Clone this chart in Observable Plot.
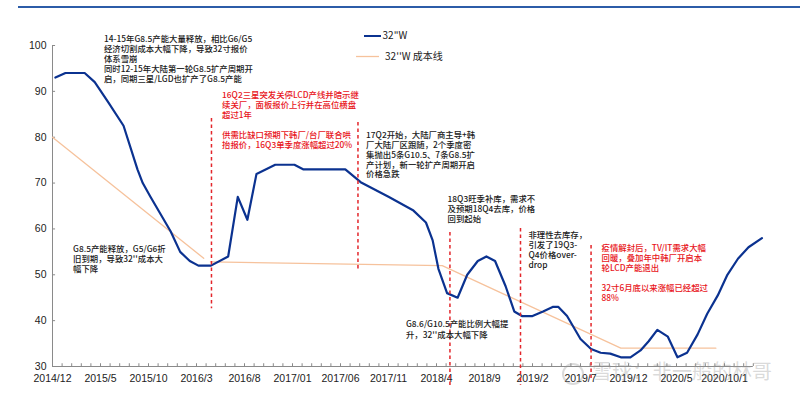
<!DOCTYPE html>
<html><head><meta charset="utf-8">
<script src="https://cdn.jsdelivr.net/npm/d3@7"></script>
<script src="https://cdn.jsdelivr.net/npm/@observablehq/plot@0.6"></script>
<style>
body{margin:0;background:#fff;}
#wrap{position:relative;width:800px;height:395px;overflow:hidden;}
#topline{position:absolute;left:18px;right:0;top:6px;height:2px;background:#2c5ca8;}
#wm{position:absolute;left:562px;top:359px;font:20px "Noto Sans CJK SC";color:rgba(150,150,150,0.35);white-space:nowrap;line-height:24px;}
#wm span.logo{display:inline-block;width:22px;height:22px;border:2px solid rgba(150,150,150,0.35);border-radius:50%;vertical-align:middle;margin-right:8px;box-sizing:border-box;}
#chart{position:absolute;left:0;top:0;}
</style></head><body>
<div id="wrap"><div id="chart"></div><div id="topline"></div><div id="wm"><span class="logo"></span>雪球：非一般的林哥</div></div>
<script>
// x positions are months since 2014/12
const tickLabels = ["2014/12","2015/5","2015/10","2016/3","2016/8","2017/01","2017/06","2017/11","2018/4","2018/9","2019/2","2019/7","2019/12","2020/5","2020/10/1"];
const tickMonths = [0,5,10,15,20,25,30,35,40,45,50,55,60,65,70];
const yTicks = [30,40,50,60,70,80,90,100];

const priceMonth = [0.3,1.35,3.35,4.4,5.85,7.4,8.85,9.4,10.2,12.3,13.3,14.3,15.2,16.5,18.3,19.3,20.3,21.25,23.2,25.2,26.1,30.5,32.1,35.0,37.6,38.9,39.6,40.2,41.1,42.2,43.2,44.3,45.2,46.1,47.2,48.1,48.9,50,51.1,52.1,52.7,53.6,55,56.1,57.1,58.1,59.2,60.2,61.25,62.1,63,64.1,65.1,66.1,67.2,68.2,69.3,70.3,71.4,72.5,73.9];
const priceValue = [93,94,94,92,87.5,82.5,73,70,67,59.5,55,53,52,52,54,67,62,72,74,74,73,73,70.2,67,64,61.4,57.5,51.3,46,45,50,53,54,53,47.5,42,41,41,42,43,43,41,36,33.8,33,32.8,32,32,33.5,35.5,38,36.5,32,33,37,41.5,45.5,50,53.5,56,58];

const costMonth = [0,15.75,16.45,40.6,59.2,69.1];
const costValue = [80,53.6,52.8,52.0,34,34];
const costSegment = ["a","a","b","b","b","b"];

const eventMonth = [16.56,31.82,41.4,48.75,56.1];
const eventTop = [84.1,83.2,59.2,60.1,56.4];
const eventBottom = [42.6,50.9,25.3,25.9,27.4];

const noteText = [
 "14-15年G8.5产能大量释放，相比G6/G5\n经济切割成本大幅下降，导致32寸报价\n体系雪崩\n同时12-15年大陆第一轮G8.5扩产周期开\n启，同期三星/LGD也扩产了G8.5产能",
 "16Q2三星突发关停LCD产线并暗示继\n续关厂，面板报价上行并在高位横盘\n超过1年\n\n供需比缺口预期下韩厂/台厂联合哄\n抬报价，16Q3单季度涨幅超过20%",
 "17Q2开始，大陆厂商主导+韩\n厂大陆厂区跟随，2个季度密\n集抛出5条G10.5、7条G8.5扩\n产计划，新一轮扩产周期开启\n价格急跌",
 "18Q3旺季补库，需求不\n及预期18Q4去库，价格\n回到起始",
 "非理性去库存，\n引发了19Q3-\nQ4价格over-\ndrop",
 "疫情解封后，TV/IT需求大幅\n回暖，叠加年中韩厂开启本\n轮LCD产能退出\n\n32寸6月底以来涨幅已经超过\n88%",
 "G8.5产能释放，G5/G6折\n旧到期，导致32''成本大\n幅下降",
 "G8.6/G10.5产能比例大幅提\n升，32''成本大幅下降"
];
const noteMonth = [5.36,17.66,32.66,41.15,49.58,57.19,2.14,36.82];
const noteValue = [102.4,90.2,81.25,67.5,59.55,56.82,56.6,40.25];
const noteColor = ["#1a1a1a","#e8141a","#1a1a1a","#1a1a1a","#1a1a1a","#e8141a","#1a1a1a","#1a1a1a"];

const legendLabel = ["32\"W","32''W 成本线"];
const legendColor = ["#0b3290","#f6c29c"];
const legendWidth = [2,1.3];
const legendX1 = [32.5,31.67];
const legendX2 = [34.27,34.06];
const legendTextX = [34.38,34.64];
const legendY = [102.07,97.6];

const axisColor = "#8a8a8a";
const idx = a => d3.range(a.length);
const noteStyle = {textAnchor: "start", lineAnchor: "top", fontSize: 8.4, fontFamily: "Noto Sans CJK SC", fontWeight: 500};
const notesA = [0,1,3,4,5,6];
const notesB = [2];
const notesC = [7];
const noteMark = (ids, lh) => Plot.text(ids, {x: i => noteMonth[i], y: i => noteValue[i], text: i => noteText[i], fill: i => noteColor[i], lineHeight: lh, ...noteStyle});

const chart = Plot.plot({
  width: 800, height: 395,
  marginLeft: 52, marginRight: 47.2, marginTop: 45, marginBottom: 29,
  x: {domain: [0, 73], axis: null},
  y: {domain: [30, 100], axis: null},
  style: {fontFamily: "Liberation Sans", overflow: "visible", background: "transparent"},
  marks: [
    Plot.ruleX([0], {y1: 30, y2: 100, stroke: axisColor}),
    Plot.ruleY([30], {x1: 0, x2: 73, stroke: axisColor}),
    Plot.ruleY(yTicks, {x1: 0, x2: 0.32, stroke: axisColor}),
    Plot.ruleX(d3.range(1, 74), {y1: 30, y2: 30.6, stroke: axisColor}),
    Plot.axisY({ticks: yTicks, tickSize: 0, tickPadding: 6, fontSize: 10.5, fill: "#222", label: null}),
    Plot.axisX({ticks: tickMonths, tickFormat: d => tickLabels[tickMonths.indexOf(d)], tickSize: 0, tickPadding: 8, fontSize: 10.5, fill: "#222", label: null}),
    Plot.line(idx(costMonth), {x: i => costMonth[i], y: i => costValue[i], z: i => costSegment[i], stroke: "#f6c29c", strokeWidth: 1.3}),
    Plot.line(idx(priceMonth), {x: i => priceMonth[i], y: i => priceValue[i], stroke: "#0b3290", strokeWidth: 2.2, strokeLinejoin: "round"}),
    Plot.ruleX(idx(eventMonth), {x: i => eventMonth[i], y1: i => eventTop[i], y2: i => eventBottom[i], stroke: "#e3262b", strokeWidth: 1.5, strokeDasharray: "3.5,3"}),
    noteMark(notesA, 1.19),
    noteMark(notesB, 1.16),
    noteMark(notesC, 1.31),
    Plot.ruleY(idx(legendLabel), {y: i => legendY[i], x1: i => legendX1[i], x2: i => legendX2[i], stroke: i => legendColor[i], strokeWidth: i => legendWidth[i]}),
    Plot.text(idx(legendLabel), {x: i => legendTextX[i], y: i => legendY[i], text: i => legendLabel[i], textAnchor: "start", fontSize: 10, fill: "#1a1a1a", fontFamily: "Noto Sans CJK SC"})
  ]
});
document.getElementById("chart").appendChild(chart);
</script>
</body></html>
